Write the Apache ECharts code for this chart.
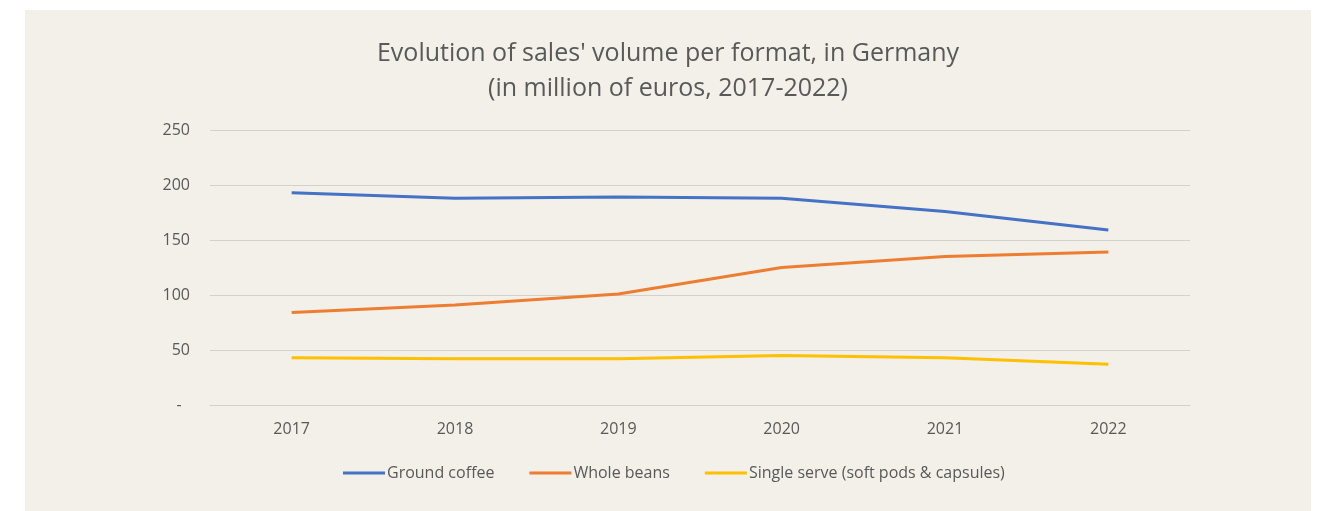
<!DOCTYPE html>
<html><head><meta charset="utf-8">
<script src="https://cdn.jsdelivr.net/npm/echarts@6/dist/echarts.min.js"></script>
<style>
html,body{margin:0;padding:0;background:#ffffff;width:1322px;height:511px;overflow:hidden;}
#c{position:absolute;left:25px;top:10px;width:1286px;height:501px;background:#f3efe9;}
</style></head><body>
<div id="c"></div>
<script>
const years = ['2017','2018','2019','2020','2021','2022'];
const groundCoffee = [193, 188, 189, 188, 176, 159];
const wholeBeans = [84, 91, 101, 125, 135, 139];
const singleServe = [43, 42, 42, 45, 43, 37];
const seriesNames = ['Ground coffee','Whole beans','Single serve (soft pods & capsules)'];
const yTicks = [0, 50, 100, 150, 200, 250];

const chart = echarts.init(document.getElementById('c'), null, {renderer:'canvas'});
const font = '"Open Sans", sans-serif';
const mk = (name, data, color) => ({
  name, type:'line', data, symbol:'none', smooth:false,
  lineStyle:{color, width:3}, itemStyle:{color}
});
chart.setOption({
  backgroundColor:'#f3efe9',
  animation:false,
  title:{
    text:"Evolution of sales' volume per format, in Germany\n(in million of euros, 2017-2022)",
    left:'center', top:21,
    textStyle:{fontFamily:font, fontSize:25, fontWeight:'normal', color:'#595959', lineHeight:35}
  },
  legend:{
    top:450, left:313, itemWidth:42, itemHeight:3, itemGap:35,
    icon:'rect',
    textStyle:{fontFamily:font, fontSize:16, color:'#595959', padding:[0,0,0,-3]},
    data:seriesNames
  },
  grid:{left:185, right:121, top:120, bottom:106, containLabel:false},
  xAxis:{
    type:'category', data:years, boundaryGap:true,
    axisLine:{lineStyle:{color:'#d4d1cc', width:1}},
    axisTick:{show:false},
    axisLabel:{fontFamily:font, fontSize:16, color:'#595959', margin:16}
  },
  yAxis:{
    type:'value', min:yTicks[0], max:yTicks[yTicks.length-1], interval:50,
    axisLine:{show:false}, axisTick:{show:false},
    splitLine:{lineStyle:{color:'#d4d1cc', width:1}},
    axisLabel:{fontFamily:font, fontSize:16, color:'#595959', margin:20,
      formatter:v => v===0 ? '-  ' : String(v)}
  },
  series:[
    mk(seriesNames[0], groundCoffee, '#4472c4'),
    mk(seriesNames[1], wholeBeans, '#ed7d31'),
    mk(seriesNames[2], singleServe, '#ffc000')
  ]
});
</script>
</body></html>
